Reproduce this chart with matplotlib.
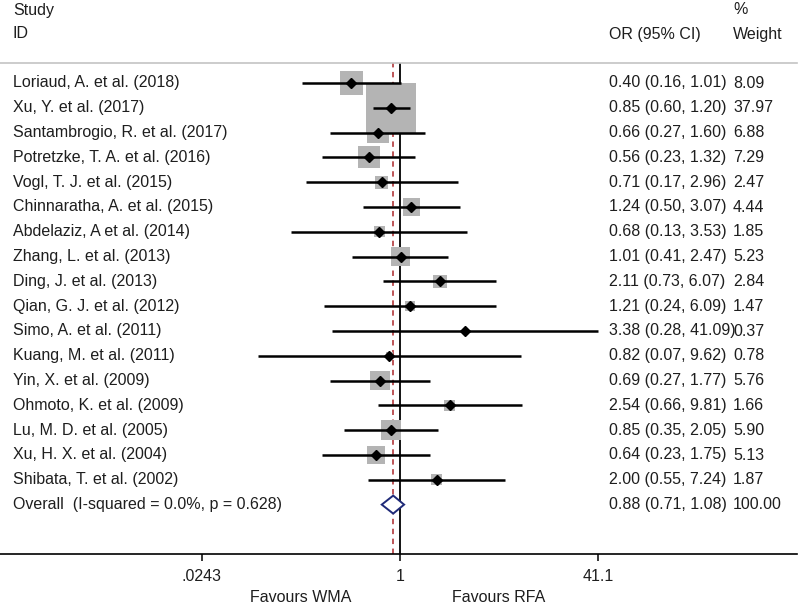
import numpy as np
import matplotlib
matplotlib.use("Agg")
import matplotlib.pyplot as plt
import matplotlib.transforms as mtransforms

plt.rcParams['font.family'] = ['Liberation Sans', 'DejaVu Sans']

# data
studies = [
    "Loriaud, A. et al. (2018)", "Xu, Y. et al. (2017)",
    "Santambrogio, R. et al. (2017)", "Potretzke, T. A. et al. (2016)",
    "Vogl, T. J. et al. (2015)", "Chinnaratha, A. et al. (2015)",
    "Abdelaziz, A et al. (2014)", "Zhang, L. et al. (2013)",
    "Ding, J. et al. (2013)", "Qian, G. J. et al. (2012)",
    "Simo, A. et al. (2011)", "Kuang, M. et al. (2011)",
    "Yin, X. et al. (2009)", "Ohmoto, K. et al. (2009)",
    "Lu, M. D. et al. (2005)", "Xu, H. X. et al. (2004)",
    "Shibata, T. et al. (2002)",
]
odds = [0.40, 0.85, 0.66, 0.56, 0.71, 1.24, 0.68, 1.01, 2.11, 1.21,
        3.38, 0.82, 0.69, 2.54, 0.85, 0.64, 2.00]
ci_low = [0.16, 0.60, 0.27, 0.23, 0.17, 0.50, 0.13, 0.41, 0.73, 0.24,
          0.28, 0.07, 0.27, 0.66, 0.35, 0.23, 0.55]
ci_high = [1.01, 1.20, 1.60, 1.32, 2.96, 3.07, 3.53, 2.47, 6.07, 6.09,
           41.09, 9.62, 1.77, 9.81, 2.05, 1.75, 7.24]
weights = [8.09, 37.97, 6.88, 7.29, 2.47, 4.44, 1.85, 5.23, 2.84, 1.47,
           0.37, 0.78, 5.76, 1.66, 5.90, 5.13, 1.87]
overall_label = "Overall  (I-squared = 0.0%, p = 0.628)"
overall_or, overall_lo, overall_hi = 0.88, 0.71, 1.08
overall_weight = "100.00"
tick_vals = [0.0243, 1, 41.1]
tick_labels = [".0243", "1", "41.1"]

W, H = 800, 605
fig = plt.figure(figsize=(W / 100, H / 100), dpi=100)

# layout in pixels
y_top, y_axis = 63, 554
row0, row_step = 83, 24.8
x_one = 400
k = 198 / np.log(41.1)  # px per ln unit

ax = fig.add_axes([0, (H - y_axis) / H, 797 / W, (y_axis - y_top) / H])
ax.set_xscale('log')
ax.set_xlim(np.exp(-x_one / k), np.exp((797 - x_one) / k))
ax.set_ylim((y_axis - row0) / row_step, (y_top - row0) / row_step)

txt = '#1e1e1e'
n = len(studies)
rows = np.arange(n)

# reference lines
ax.axvline(1, color='black', lw=1.3, zorder=1)
ax.axvline(overall_or, color='#b8474a', lw=1.3, dashes=(3, 2.5), zorder=1)

# CI lines
ax.hlines(rows, ci_low, ci_high, color='black', lw=1.8, zorder=3)
# weight boxes
side_px = 50 * np.sqrt(np.array(weights) / max(weights))
ax.scatter(odds, rows, marker='s', s=(side_px * 0.72) ** 2,
           color='#b4b4b4', edgecolors='none', zorder=2)
ax.plot(odds, rows, 'D', color='black', ms=4.8, zorder=4)

# overall diamond
dh = 9 / row_step
ax.fill([overall_lo, overall_or, overall_hi, overall_or, overall_lo],
        [n, n - dh, n, n + dh, n], facecolor='white',
        edgecolor='#1f2a78', lw=1.4, zorder=4)

# axes styling
for s in ('left', 'right'):
    ax.spines[s].set_visible(False)
ax.spines['top'].set_color('#c4c4c4')
ax.spines['top'].set_linewidth(1.2)
ax.spines['bottom'].set_color('black')
ax.spines['bottom'].set_linewidth(1.2)
ax.set_yticks([])
ax.set_xticks(tick_vals)
ax.set_xticklabels(tick_labels)
ax.xaxis.set_minor_locator(matplotlib.ticker.NullLocator())

fs = 11.5
ax.tick_params(axis='x', length=5, width=1.1, pad=6, labelsize=fs,
               labelcolor=txt)

# text columns
tr = mtransforms.blended_transform_factory(fig.transFigure, ax.transData)
x_name, x_or, x_w = 13 / W, 609 / W, 733 / W
for i in range(n):
    ax.text(x_name, i, studies[i], transform=tr, va='center', ha='left',
            fontsize=fs, color=txt)
    ax.text(x_or, i, "%.2f (%.2f, %.2f)" % (odds[i], ci_low[i], ci_high[i]),
            transform=tr, va='center', ha='left', fontsize=fs, color=txt)
    ax.text(x_w, i, "%.2f" % weights[i], transform=tr, va='center',
            ha='left', fontsize=fs, color=txt)
ax.text(x_name, n, overall_label, transform=tr, va='center', ha='left',
        fontsize=fs, color=txt)
ax.text(x_or, n, "%.2f (%.2f, %.2f)" % (overall_or, overall_lo, overall_hi),
        transform=tr, va='center', ha='left', fontsize=fs, color=txt)
ax.text(x_w, n, overall_weight, transform=tr, va='center', ha='left',
        fontsize=fs, color=txt)

# headers
def fy(p):
    return 1 - p / H

fig.text(x_name, fy(10), "Study", va='center', ha='left', fontsize=fs, color=txt)
fig.text(x_name, fy(34), "ID", va='center', ha='left', fontsize=fs, color=txt)
fig.text(x_or, fy(34), "OR (95% CI)", va='center', ha='left', fontsize=fs, color=txt)
fig.text(x_w, fy(10), "%", va='center', ha='left', fontsize=fs, color=txt)
fig.text(x_w, fy(34), "Weight", va='center', ha='left', fontsize=fs, color=txt)

fig.text(301 / W, fy(597), "Favours WMA", va='center', ha='center',
         fontsize=fs, color=txt)
fig.text(499 / W, fy(597), "Favours RFA", va='center', ha='center',
         fontsize=fs, color=txt)

fig.savefig("out.png", dpi=100)
